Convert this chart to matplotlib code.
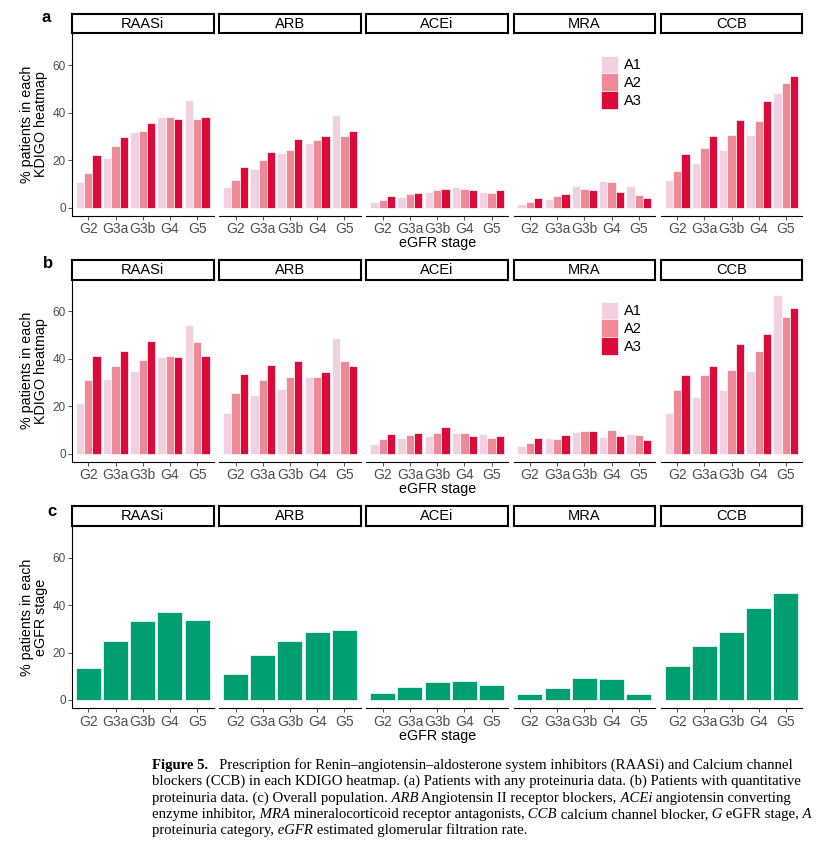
import matplotlib
matplotlib.use('Agg')
import matplotlib.pyplot as plt
from matplotlib.patches import Patch
import numpy as np

# ---------------- data ----------------
stages = ['G2', 'G3a', 'G3b', 'G4', 'G5']
drugs = ['RAASi', 'ARB', 'ACEi', 'MRA', 'CCB']
albumin_cats = ['A1', 'A2', 'A3']

# panel a: patients with any proteinuria data (rows: A1, A2, A3; cols: stages)
a_RAASi = [[10.9, 21.0, 31.7, 38.2, 45.5],
           [14.8, 25.8, 32.1, 38.0, 37.5],
           [22.3, 29.6, 35.7, 37.5, 38.2]]
a_ARB = [[8.8, 16.4, 23.1, 27.3, 39.1],
         [11.8, 20.2, 24.4, 28.6, 30.3],
         [17.2, 23.5, 29.0, 30.3, 32.4]]
a_ACEi = [[2.4, 4.5, 6.6, 8.7, 6.6],
          [3.2, 5.7, 7.4, 7.8, 6.2],
          [4.9, 6.2, 7.8, 7.4, 7.4]]
a_MRA = [[1.4, 3.6, 9.0, 11.1, 9.0],
         [2.2, 4.8, 7.7, 10.6, 5.2],
         [3.9, 5.6, 7.3, 6.4, 3.9]]
a_CCB = [[11.5, 18.6, 24.1, 30.4, 48.2],
         [15.3, 25.0, 30.4, 36.3, 52.4],
         [22.4, 30.0, 36.7, 44.7, 55.3]]

# panel b: patients with quantitative proteinuria data
b_RAASi = [[21.3, 31.7, 34.7, 41.0, 54.4],
           [31.3, 37.2, 39.7, 41.4, 47.0],
           [41.4, 43.5, 47.7, 41.0, 41.4]]
b_ARB = [[17.1, 24.6, 27.1, 32.2, 49.0],
         [25.5, 30.9, 32.2, 32.2, 39.3],
         [33.8, 37.6, 39.3, 34.3, 36.8]]
b_ACEi = [[4.1, 6.6, 7.4, 8.7, 8.3],
          [6.2, 7.8, 8.7, 8.7, 6.6],
          [8.3, 8.7, 11.2, 7.4, 7.4]]
b_MRA = [[3.2, 6.6, 9.1, 7.0, 8.3],
         [4.5, 6.2, 9.5, 9.9, 7.8],
         [6.6, 7.8, 9.5, 7.4, 5.7]]
b_CCB = [[17.1, 23.8, 26.7, 34.7, 67.0],
         [26.7, 33.0, 35.5, 43.5, 57.8],
         [33.0, 37.2, 46.4, 50.6, 61.5]]

# panel c: overall population
c_RAASi = [13.7, 24.7, 33.5, 37.3, 33.9]
c_ARB = [10.8, 18.8, 24.7, 28.5, 29.7]
c_ACEi = [2.8, 5.3, 7.4, 7.9, 6.2]
c_MRA = [2.4, 4.9, 9.1, 8.7, 2.4]
c_CCB = [14.2, 22.6, 28.5, 38.6, 45.3]

panel_a = [a_RAASi, a_ARB, a_ACEi, a_MRA, a_CCB]
panel_b = [b_RAASi, b_ARB, b_ACEi, b_MRA, b_CCB]
panel_c = [c_RAASi, c_ARB, c_ACEi, c_MRA, c_CCB]

# ---------------- style ----------------
A_COLORS = ['#F0D0E1', '#EE8A97', '#DC0A3B']
C_COLOR = '#009E73'
SANS = 'Liberation Sans'
SERIF = 'Liberation Serif'
W, H = 816, 849
fig = plt.figure(figsize=(W / 100, H / 100), dpi=100)


def fx(px):
    return px / W


def fy(py):
    return 1 - py / H


col_left = [72 + i * 147.2 for i in range(5)]
col_w = 141.5
rows = {  # strip top, strip bottom(=panel top), panel bottom
    'a': (13.5, 33.0, 216.0),
    'b': (260.0, 279.5, 462.0),
    'c': (505.7, 525.7, 708.3),
}
ylab = {'a': '% patients in each\nKDIGO heatmap',
        'b': '% patients in each\nKDIGO heatmap',
        'c': '% patients in each\neGFR stage'}
label_pos = {'a': (46, 18), 'b': (48, 264), 'c': (52, 511)}
x = np.arange(len(stages))
group_w = 0.92


def make_row(key, data, grouped):
    st, pt, pb = rows[key]
    axes = []
    for i, drug in enumerate(drugs):
        ax = fig.add_axes([fx(col_left[i]), fy(pb), fx(col_w), (pb - pt) / H])
        if grouped:
            bw = group_w / 3
            for k, cat in enumerate(albumin_cats):
                ax.bar(x + (k - 1) * bw, data[i][k], width=bw, color=A_COLORS[k],
                       edgecolor='white', linewidth=0.5, label=cat)
        else:
            ax.bar(x, data[i], width=group_w, color=C_COLOR,
                   edgecolor='white', linewidth=0.5)
        ax.set_xlim(-0.6, 4.6)
        ax.set_ylim(-3.5, 73.5)
        ax.set_xticks(x)
        ax.set_xticklabels(stages, fontsize=10, color='#4D4D4D', family=SANS)
        ax.tick_params(axis='x', length=3, width=0.6, color='#333333', pad=1.5)
        for s in ['top', 'right']:
            ax.spines[s].set_visible(False)
        ax.spines['bottom'].set_linewidth(0.8)
        if i == 0:
            ax.set_yticks([0, 20, 40, 60])
            ax.set_yticklabels(['0', '20', '40', '60'], fontsize=8.5,
                               color='#4D4D4D', family=SANS)
            ax.tick_params(axis='y', length=3, width=0.6, color='#333333', pad=1.5)
            ax.spines['left'].set_linewidth(0.8)
            ax.set_ylabel(ylab[key], fontsize=10.3, family=SANS, labelpad=3,
                          linespacing=1.0)
        else:
            ax.spines['left'].set_visible(False)
            ax.set_yticks([])
        if i == 2:
            ax.set_xlabel('eGFR stage', fontsize=10.3, family=SANS, labelpad=0)
        # strip
        sax = fig.add_axes([fx(col_left[i]), fy(pt), fx(col_w), (pt - st) / H])
        sax.set_xticks([])
        sax.set_yticks([])
        for s in sax.spines.values():
            s.set_linewidth(1.5)
            s.set_color('black')
        sax.text(0.5, 0.47, drug, ha='center', va='center', fontsize=10.5,
                 family=SANS, transform=sax.transAxes)
        axes.append(ax)
    lx, ly = label_pos[key]
    fig.text(fx(lx), fy(ly), key, fontsize=12, fontweight='bold', family=SANS,
             ha='center', va='center')
    return axes


row_a = make_row('a', panel_a, True)
row_b = make_row('b', panel_b, True)
row_c = make_row('c', panel_c, False)

handles = [Patch(facecolor=c, edgecolor='white', linewidth=0.5) for c in A_COLORS]
for legend_top in (55.5, 301.5):
    fig.legend(handles, albumin_cats, loc='upper left',
               bbox_to_anchor=(fx(600.5), fy(legend_top)), bbox_transform=fig.transFigure,
               frameon=False, prop={'family': SANS, 'size': 10.5},
               handlelength=1.17, handleheight=1.5, handletextpad=0.45,
               labelspacing=0.0, borderpad=0, borderaxespad=0)

# ---------------- caption ----------------
cap_size = 10.6
cap_lines = [
    [("Figure 5.", 'b'),
     ("   Prescription for Renin\u2013angiotensin\u2013aldosterone system inhibitors (RAASi) and Calcium channel", 'r')],
    [("blockers (CCB) in each KDIGO heatmap. (a) Patients with any proteinuria data. (b) Patients with quantitative", 'r')],
    [("proteinuria data. (c) Overall population.", 'r'), (" ARB", 'i'),
     (" Angiotensin II receptor blockers,", 'r'), (" ACEi", 'i'),
     (" angiotensin converting", 'r')],
    [("enzyme inhibitor,", 'r'), (" MRA", 'i'),
     (" mineralocorticoid receptor antagonists,", 'r'), (" CCB", 'i'),
     (" calcium channel blocker,", 'r'), (" G", 'i'), (" eGFR stage,", 'r'),
     (" A", 'i')],
    [("proteinuria category,", 'r'), (" eGFR", 'i'),
     (" estimated glomerular filtration rate.", 'r')],
]
cap_x = 152
cap_y0 = 772
cap_dy = 16.3
for li, segs in enumerate(cap_lines):
    prev = None
    for txt, sty in segs:
        kw = dict(fontsize=cap_size, family=SERIF, color='black')
        if sty == 'b':
            kw['fontweight'] = 'bold'
        if sty == 'i':
            kw['fontstyle'] = 'italic'
        if prev is None:
            prev = fig.text(fx(cap_x), fy(cap_y0 + li * cap_dy), txt,
                            ha='left', va='bottom', **kw)
        else:
            prev = fig.add_artist(plt.Annotation(txt, xy=(1, 0), xycoords=prev,
                                                 ha='left', va='bottom', **kw))

fig.savefig('out.png', dpi=100)
